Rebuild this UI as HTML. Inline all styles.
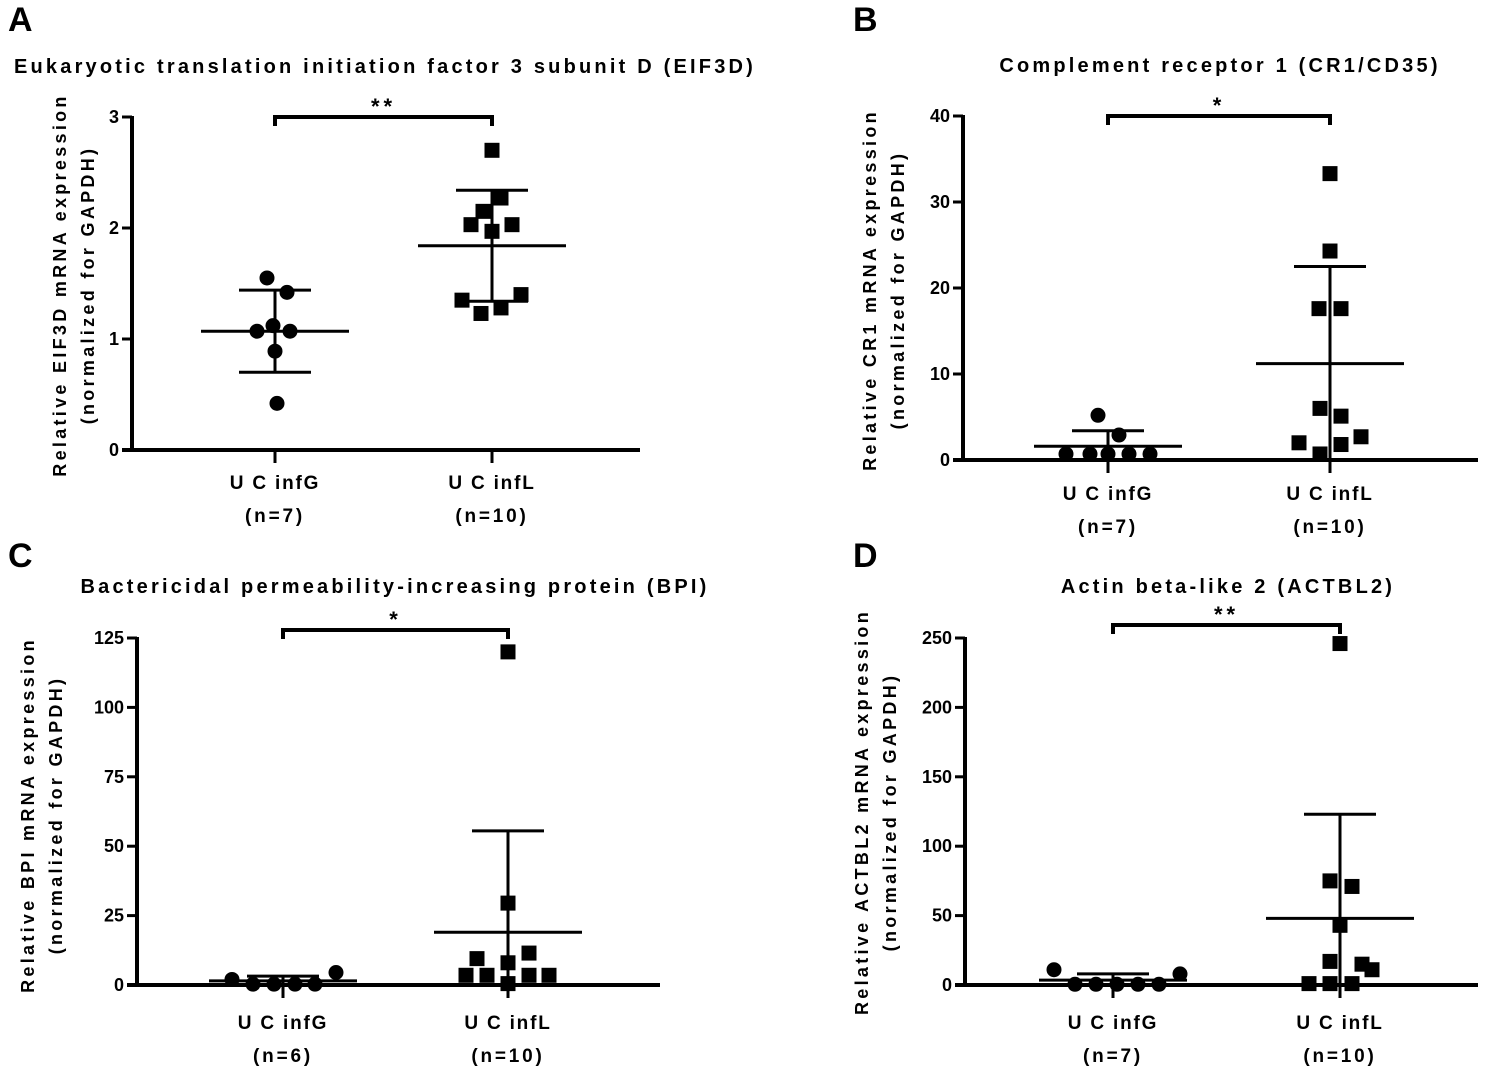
<!DOCTYPE html>
<html><head><meta charset="utf-8"><style>
html,body{margin:0;padding:0;background:#fff}
svg{display:block}
text{font-family:"Liberation Sans",sans-serif;font-weight:bold;fill:#000}
</style></head><body>
<svg id="fig" width="1499" height="1071" viewBox="0 0 1499 1071" xmlns="http://www.w3.org/2000/svg"></svg>
<script>
// Panel A data
const aTicks=[0,1,2,3];
const aG=[1.55,1.42,1.12,1.07,1.07,0.89,0.42];
const aGdx=[-8,12,-2,-18,15,0,2];
const aL=[2.7,2.27,2.15,2.03,2.03,1.97,1.4,1.35,1.28,1.23];
const aLdx=[0,9,-9,-21,20,0,29,-30,9,-11];
const aStats=[1.07,0.37,1.84,0.5];
// Panel B data
const bTicks=[0,10,20,30,40];
const bG=[5.2,2.9,0.7,0.7,0.7,0.7,0.7];
const bGdx=[-10,11,-42,-18,0,21,42];
const bL=[33.3,24.3,17.6,17.6,6,5.1,2.7,2,1.8,0.7];
const bLdx=[0,0,-11,11,-10,11,31,-31,11,-10];
const bStats=[1.6,1.8,11.2,11.3];
// Panel C data
const cTicks=[0,25,50,75,100,125];
const cG=[2,0.3,0.3,0.3,0.3,4.5];
const cGdx=[-51,-30,-9,12,32,53];
const cL=[120,29.5,11.5,9.5,8,3.5,3.5,3.5,3.5,0.5];
const cLdx=[0,0,21,-31,0,-42,-21,21,41,0];
const cStats=[1.5,1.7,19,36.5];
// Panel D data
const dTicks=[0,50,100,150,200,250];
const dG=[11,8,0.5,0.5,0.5,0.5,0.5];
const dGdx=[-59,67,-38,-17,4,25,46];
const dL=[246,75,71,43,17,15,11,1,1,1];
const dLdx=[0,-10,12,0,-10,22,32,-31,-10,12];
const dStats=[3.5,4.5,48,75];

const NS="http://www.w3.org/2000/svg";
const svg=document.getElementById('fig');
function mk(tag,attrs,parent){const e=document.createElementNS(NS,tag);for(const k in attrs)e.setAttribute(k,attrs[k]);(parent||svg).appendChild(e);return e;}
function txt(s,x,y,size,anchor,ls,parent,rot){const t=mk('text',{x:x,y:y,'font-size':size,'text-anchor':anchor||'middle','letter-spacing':ls||0},parent);if(rot)t.setAttribute('transform','rotate(-90 '+x+' '+y+')');t.textContent=s;return t;}

function panel(p){
  const g=mk('g',{});
  
  
  const ys=v=>p.y0-(v/p.max)*(p.y0-p.yTop);
  const lt=txt(p.letter,p.lx,p.ly,34,'start',0,g);
  
  const tt=txt(p.title,p.tx,p.ty,20,'middle',3.2,g);
  
  const y1=txt(p.yl1,p.yx,p.ymid,18,'middle',3.3,g,true);
  
  const y2=txt('(normalized for GAPDH)',p.yx+28,p.ymid,18,'middle',3.3,g,true);
  
  const ya=mk('line',{x1:p.ax,y1:p.yTop-1,x2:p.ax,y2:p.y0+2,stroke:'#000','stroke-width':4},g);
  
  const xa=mk('line',{x1:p.ax-10,y1:p.y0,x2:p.xEnd,y2:p.y0,stroke:'#000','stroke-width':4},g);
  
  p.ticks.forEach(v=>{
    const y=ys(v);
    mk('line',{x1:p.ax-10,y1:y,x2:p.ax,y2:y,stroke:'#000','stroke-width':3},g);
    const tl=txt(String(v),p.ax-13,y+6,18,'end',0,g);
    
  });
  [p.cG,p.cL].forEach(cx=>mk('line',{x1:cx,y1:p.y0,x2:cx,y2:p.y0+13,stroke:'#000','stroke-width':3},g));
  [[p.cG,'U C infG',p.nG],[p.cL,'U C infL',p.nL]].forEach(c=>{
    const a=txt(c[1],c[0],p.catY,19,'middle',1.8,g);
    
    const b=txt(c[2],c[0],p.catY+33,19,'middle',2.8,g);
    
  });
  const groups=[[p.cG,p.stats[0],p.stats[1]],[p.cL,p.stats[2],p.stats[3]]];
  groups.forEach(s=>{
    const cx=s[0],m=s[1],sd=s[2];
    const top=ys(m+sd);let bot=ys(m-sd);const clip=bot>p.y0;if(clip)bot=p.y0+12;
    const eb=mk('g',{},g);
    
    mk('line',{x1:cx,y1:top,x2:cx,y2:bot,stroke:'#000','stroke-width':3},eb);
    mk('line',{x1:cx-36,y1:top,x2:cx+36,y2:top,stroke:'#000','stroke-width':3},eb);
    if(!clip)mk('line',{x1:cx-36,y1:bot,x2:cx+36,y2:bot,stroke:'#000','stroke-width':3},eb);
    const ml=mk('line',{x1:cx-74,y1:ys(m),x2:cx+74,y2:ys(m),stroke:'#000','stroke-width':3},eb);
    
  });
  p.G.forEach((v,i)=>{
    const c=mk('circle',{cx:p.cG+p.Gdx[i],cy:ys(v),r:7.5,fill:'#000'},g);
    
  });
  p.L.forEach((v,i)=>{
    const r=mk('rect',{x:p.cL+p.Ldx[i]-7.5,y:ys(v)-7.5,width:15,height:15,fill:'#000'},g);
    
  });
  const br=mk('path',{d:`M${p.cG},${p.brY+9}V${p.brY}H${p.cL}V${p.brY+9}`,fill:'none',stroke:'#000','stroke-width':4},g);
  
  const st=txt(p.sig,(p.cG+p.cL)/2,p.brY-3,22,'middle',4,g);
  
}

panel({id:'a',letter:'A',lx:8,ly:31,title:'Eukaryotic translation initiation factor 3 subunit D (EIF3D)',tx:385,ty:73,
  yl1:'Relative EIF3D mRNA expression',yx:66,ymid:285,ax:132,y0:450,yTop:117,max:3,xEnd:640,cG:275,cL:492,
  ticks:aTicks,G:aG,Gdx:aGdx,L:aL,Ldx:aLdx,stats:aStats,catY:489,nG:'(n=7)',nL:'(n=10)',brY:117,sig:'**'});
panel({id:'b',letter:'B',lx:853,ly:31,title:'Complement receptor 1 (CR1/CD35)',tx:1220,ty:72,
  yl1:'Relative CR1 mRNA expression',yx:876,ymid:290,ax:963,y0:460,yTop:116,max:40,xEnd:1478,cG:1108,cL:1330,
  ticks:bTicks,G:bG,Gdx:bGdx,L:bL,Ldx:bLdx,stats:bStats,catY:500,nG:'(n=7)',nL:'(n=10)',brY:116,sig:'*'});
panel({id:'c',letter:'C',lx:8,ly:567,title:'Bactericidal permeability-increasing protein (BPI)',tx:395,ty:593,
  yl1:'Relative BPI mRNA expression',yx:34,ymid:815,ax:137,y0:985,yTop:638,max:125,xEnd:660,cG:283,cL:508,
  ticks:cTicks,G:cG,Gdx:cGdx,L:cL,Ldx:cLdx,stats:cStats,catY:1029,nG:'(n=6)',nL:'(n=10)',brY:630,sig:'*'});
panel({id:'d',letter:'D',lx:853,ly:567,title:'Actin beta-like 2 (ACTBL2)',tx:1228,ty:593,
  yl1:'Relative ACTBL2 mRNA expression',yx:868,ymid:812,ax:965,y0:985,yTop:638,max:250,xEnd:1478,cG:1113,cL:1340,
  ticks:dTicks,G:dG,Gdx:dGdx,L:dL,Ldx:dLdx,stats:dStats,catY:1029,nG:'(n=7)',nL:'(n=10)',brY:625,sig:'**'});
</script>
</body></html>
